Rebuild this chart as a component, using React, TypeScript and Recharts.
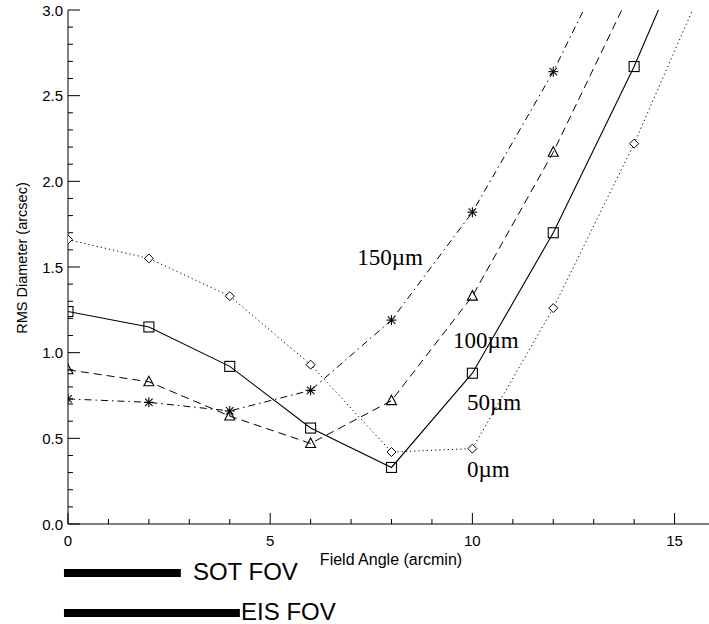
import React from 'react';
import { LineChart, Line, XAxis, YAxis, ReferenceLine, ReferenceDot } from 'recharts';

// Field angle (arcmin) sampled every 2 arcmin
const fieldAngle = [0, 2, 4, 6, 8, 10, 12, 14, 16];
// RMS diameter (arcsec) for each defocus
const rms0um = [1.66, 1.55, 1.33, 0.93, 0.42, 0.44, 1.26, 2.22, 3.3];
const rms50um = [1.24, 1.15, 0.92, 0.56, 0.33, 0.88, 1.7, 2.67, 3.77];
const rms100um = [0.9, 0.83, 0.63, 0.47, 0.72, 1.33, 2.17, 3.15, null];
const rms150um = [0.73, 0.71, 0.66, 0.78, 1.19, 1.82, 2.64, 3.6, null];

const xTicks = [0, 1, 2, 3, 4, 5, 6, 7, 8, 9, 10, 11, 12, 13, 14, 15, 16];
const yTicks = [0, 0.1, 0.2, 0.3, 0.4, 0.5, 0.6, 0.7, 0.8, 0.9, 1.0, 1.1, 1.2, 1.3, 1.4, 1.5, 1.6, 1.7, 1.8, 1.9, 2.0, 2.1, 2.2, 2.3, 2.4, 2.5, 2.6, 2.7, 2.8, 2.9, 3.0];

const seriesLabels = [
  { text: '150\u00b5m', x: 7.15, y: 1.51 },
  { text: '100\u00b5m', x: 9.52, y: 1.027 },
  { text: '50\u00b5m', x: 9.87, y: 0.665 },
  { text: '0\u00b5m', x: 9.87, y: 0.274 },
];

const fovNames = ['SOT FOV', 'EIS FOV'];
const fovStart = [-0.1, -0.1];
const fovEnd = [2.79, 4.25];
const fovY = [-0.286, -0.519];
const fovLabelX = [3.09, 4.28];

const data = fieldAngle.map((x, i) => ({
  x,
  r0: rms0um[i],
  r50: rms50um[i],
  r100: rms100um[i],
  r150: rms150um[i],
}));

const SANS = '"Liberation Sans", Arial, Helvetica, sans-serif';
const SERIF = '"Liberation Serif", "Times New Roman", serif';
const DOT_CLIP = 'url(#plotAreaClip)';

const isMajorX = (v: number) => Math.abs(v % 5) < 1e-6;
const isMajorY = (v: number) => Math.abs(v * 2 - Math.round(v * 2)) < 1e-6;

const BottomTick = (props: any) => {
  const { x, y, payload } = props;
  const v = payload.value;
  const major = isMajorX(v);
  return (
    <g>
      <line x1={x} x2={x} y1={y} y2={y - (major ? 11 : 5)} stroke="#000" strokeWidth={1} />
      {major && v <= 15 ? (
        <text x={x} y={y + 22} textAnchor="middle" fontSize={15} fontFamily={SANS} fill="#000">
          {v}
        </text>
      ) : null}
    </g>
  );
};

const TopTick = (props: any) => {
  const { x, y, payload } = props;
  const major = isMajorX(payload.value);
  return <line x1={x} x2={x} y1={y} y2={y + (major ? 11 : 5)} stroke="#000" strokeWidth={1} />;
};

const LeftTick = (props: any) => {
  const { x, y, payload } = props;
  const v = payload.value;
  const major = isMajorY(v);
  return (
    <g>
      <line x1={x} x2={x + (major ? 12 : 5)} y1={y} y2={y} stroke="#000" strokeWidth={1} />
      {major ? (
        <text x={x - 5} y={y + 5.5} textAnchor="end" fontSize={15} fontFamily={SANS} fill="#000">
          {v.toFixed(1)}
        </text>
      ) : null}
    </g>
  );
};

const RightTick = (props: any) => {
  const { x, y, payload } = props;
  const major = isMajorY(payload.value);
  return <line x1={x} x2={x - (major ? 12 : 5)} y1={y} y2={y} stroke="#000" strokeWidth={1} />;
};

const DiamondDot = (props: any) => {
  const { cx, cy } = props;
  if (cx == null || cy == null || isNaN(cy)) return null;
  const s = 4.5;
  return (
    <polygon
      points={`${cx},${cy - s} ${cx + s},${cy} ${cx},${cy + s} ${cx - s},${cy}`}
      fill="#fff"
      stroke="#000"
      strokeWidth={1}
      clipPath={DOT_CLIP}
    />
  );
};

const SquareDot = (props: any) => {
  const { cx, cy } = props;
  if (cx == null || cy == null || isNaN(cy)) return null;
  const s = 5;
  return (
    <rect
      x={cx - s}
      y={cy - s}
      width={2 * s}
      height={2 * s}
      fill="none"
      stroke="#000"
      strokeWidth={1.1}
      clipPath={DOT_CLIP}
    />
  );
};

const TriangleDot = (props: any) => {
  const { cx, cy } = props;
  if (cx == null || cy == null || isNaN(cy)) return null;
  return (
    <polygon
      points={`${cx},${cy - 5.5} ${cx + 5},${cy + 4} ${cx - 5},${cy + 4}`}
      fill="none"
      stroke="#000"
      strokeWidth={1.1}
      clipPath={DOT_CLIP}
    />
  );
};

const StarDot = (props: any) => {
  const { cx, cy } = props;
  if (cx == null || cy == null || isNaN(cy)) return null;
  const s = 5;
  const d = s * 0.75;
  return (
    <g stroke="#000" strokeWidth={1.1} clipPath={DOT_CLIP}>
      <line x1={cx} x2={cx} y1={cy - s} y2={cy + s} />
      <line x1={cx - s} x2={cx + s} y1={cy} y2={cy} />
      <line x1={cx - d} x2={cx + d} y1={cy - d} y2={cy + d} />
      <line x1={cx - d} x2={cx + d} y1={cy + d} y2={cy - d} />
    </g>
  );
};

const makeTextShape = (text: string, fontSize: number, family: string) => (props: any) => {
  const { cx, cy } = props;
  return (
    <text x={cx} y={cy} fontSize={fontSize} fontFamily={family} fill="#000" textAnchor="start">
      {text}
    </text>
  );
};

export default function App() {
  return (
    <div style={{ position: 'absolute', left: 0, top: 0, width: 709, height: 624, overflow: 'hidden', background: '#fff' }}>
      <svg width={0} height={0} style={{ position: 'absolute' }}>
        <defs>
          <clipPath id="plotAreaClip" clipPathUnits="userSpaceOnUse">
            <rect x={68} y={10} width={647} height={514} />
          </clipPath>
        </defs>
      </svg>
      <LineChart width={716} height={624} data={data} margin={{ top: 10, right: 1, bottom: 70, left: 0 }}>
        <XAxis
          dataKey="x"
          type="number"
          domain={[0, 16]}
          allowDataOverflow
          ticks={xTicks}
          interval={0}
          height={30}
          tickSize={0}
          tickMargin={0}
          tick={<BottomTick />}
          axisLine={{ stroke: '#000', strokeWidth: 1 }}
        />
        <XAxis
          xAxisId="top"
          orientation="top"
          dataKey="x"
          type="number"
          domain={[0, 16]}
          allowDataOverflow
          ticks={xTicks}
          interval={0}
          height={0}
          tickSize={0}
          tickMargin={0}
          tick={<TopTick />}
          axisLine={{ stroke: '#000', strokeWidth: 1 }}
        />
        <YAxis
          type="number"
          domain={[0, 3]}
          allowDataOverflow
          ticks={yTicks}
          interval={0}
          width={68}
          tickSize={0}
          tickMargin={0}
          tick={<LeftTick />}
          axisLine={{ stroke: '#000', strokeWidth: 1 }}
        />
        <YAxis
          yAxisId="right"
          orientation="right"
          type="number"
          domain={[0, 3]}
          allowDataOverflow
          ticks={yTicks}
          interval={0}
          width={0}
          tickSize={0}
          tickMargin={0}
          tick={<RightTick />}
          axisLine={{ stroke: '#000', strokeWidth: 1 }}
        />
        <Line
          dataKey="r0"
          type="linear"
          stroke="#000"
          strokeWidth={1}
          strokeDasharray="1.2 3"
          dot={<DiamondDot />}
          activeDot={false}
          isAnimationActive={false}
        />
        <Line
          dataKey="r50"
          type="linear"
          stroke="#000"
          strokeWidth={1.1}
          dot={<SquareDot />}
          activeDot={false}
          isAnimationActive={false}
        />
        <Line
          dataKey="r100"
          type="linear"
          stroke="#000"
          strokeWidth={1}
          strokeDasharray="8 5"
          dot={<TriangleDot />}
          activeDot={false}
          isAnimationActive={false}
        />
        <Line
          dataKey="r150"
          type="linear"
          stroke="#000"
          strokeWidth={1}
          strokeDasharray="7 4 1.5 4"
          dot={<StarDot />}
          activeDot={false}
          isAnimationActive={false}
        />
        {seriesLabels.map((l) => (
          <ReferenceDot
            key={l.text}
            x={l.x}
            y={l.y}
            r={0}
            ifOverflow="visible"
            shape={makeTextShape(l.text, 23, SERIF)}
          />
        ))}
        {fovNames.map((name, i) => (
          <ReferenceLine
            key={'bar' + name}
            segment={[
              { x: fovStart[i], y: fovY[i] },
              { x: fovEnd[i], y: fovY[i] },
            ]}
            stroke="#000"
            strokeWidth={8}
            ifOverflow="visible"
          />
        ))}
        {fovNames.map((name, i) => (
          <ReferenceDot
            key={'lab' + name}
            x={fovLabelX[i]}
            y={fovY[i] - 0.041}
            r={0}
            ifOverflow="visible"
            shape={makeTextShape(name, 24, SANS)}
          />
        ))}
      </LineChart>
      <svg
        width={709}
        height={624}
        style={{ position: 'absolute', left: 0, top: 0, pointerEvents: 'none' }}
      >
        <text
          transform="translate(22,258) rotate(-90)"
          textAnchor="middle"
          dominantBaseline="central"
          fontSize={14.5}
          fontFamily={SANS}
          fill="#000"
        >
          RMS Diameter (arcsec)
        </text>
        <text x={391} y={565} textAnchor="middle" fontSize={16} fontFamily={SANS} fill="#000">
          Field Angle (arcmin)
        </text>
      </svg>
    </div>
  );
}
